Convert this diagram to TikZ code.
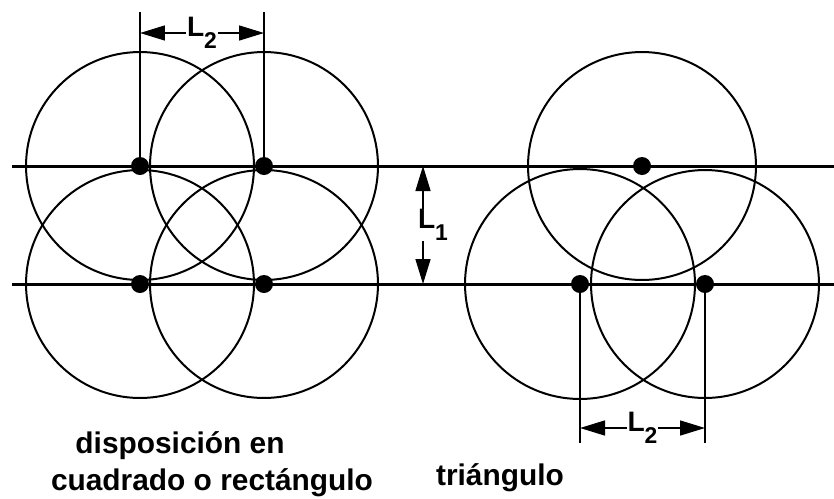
\documentclass[tikz,border=0pt]{standalone}
\usepackage{fontspec}
\setmainfont{Liberation Sans}
\usetikzlibrary{arrows.meta, positioning}
\tikzset{every node/.style={font=\bfseries}}
\newcommand{\lowidx}[1]{\raisebox{-6.5pt}{\fontsize{13}{13}\selectfont #1}}

\begin{document}
\begin{tikzpicture}[x=0.02cm, y=-0.02cm,
    ring/.style={line width=0.4mm},
    rowline/.style={line width=0.6mm},
    dimline/.style={line width=0.45mm},
    dimarrow/.style={line width=0.3mm, {Triangle[length=5mm, width=3mm]}-{Triangle[length=5mm, width=3mm]}},
    dot/.style={circle, fill, inner sep=0pt, minimum size=3.6mm},
    dimlabel/.style={fill=white, inner sep=0.5pt, font=\bfseries\fontsize{16}{16}\selectfont},
    caption/.style={anchor=base, font=\bfseries\fontsize{17}{20}\selectfont}]
  \useasboundingbox (0,0) rectangle (834,498);

  \coordinate (top west) at (12,166);
  \coordinate (top east) at (834,166);
  \coordinate (bot west) at (12,284);
  \coordinate (bot east) at (834,284);

  \node[dot] (sq1) at (140,166) {};
  \node[dot] (sq2) at (264,166) {};
  \node[dot] (sq3) at (140,284) {};
  \node[dot] (sq4) at (264,284) {};
  \node[dot] (tr1) at (642,166) {};
  \node[dot] (tr2) at (580,284) {};
  \node[dot] (tr3) at (705,284) {};

  \draw[ring] (sq1) circle[radius=2.28cm];
  \draw[ring] (sq2) circle[radius=2.28cm];
  \draw[ring] (sq3) circle[radius=2.28cm];
  \draw[ring] (sq4) circle[radius=2.28cm];
  \draw[ring] (tr1) circle[radius=2.28cm];
  \draw[ring] (tr2) circle[radius=2.3cm];
  \draw[ring] (tr3) circle[radius=2.28cm];

  \draw[rowline] (top west) -- (top east);
  \draw[rowline] (bot west) -- (bot east);

  \coordinate (sq1 up) at (140,12);
  \coordinate (sq2 up) at (264,12);
  \coordinate (l2 top left) at (140,33);
  \coordinate (l2 top right) at (264,33);
  \draw[dimline] (sq1) -- (sq1 up);
  \draw[dimline] (sq2) -- (sq2 up);
  \draw[dimarrow] (l2 top left) -- node[dimlabel] (l2 top) {L\lowidx{2}} (l2 top right);

  \coordinate (tr2 down) at (580,443);
  \coordinate (tr3 down) at (705,443);
  \coordinate (l2 bot left) at (580,428);
  \coordinate (l2 bot right) at (705,428);
  \draw[dimline] (tr2) -- (tr2 down);
  \draw[dimline] (tr3) -- (tr3 down);
  \draw[dimarrow] (l2 bot left) -- node[dimlabel] (l2 bot) {L\lowidx{2}} (l2 bot right);

  \coordinate (l1 up) at (423,166);
  \coordinate (l1 down) at (423,284);
  \draw[dimarrow] (l1 up) -- node[dimlabel, xshift=0.2cm] (l1) {L\lowidx{1}} (l1 down);

  \node[caption] (square line1) at (180,453) {disposición en};
  \node[caption] (square line2) at (212,490) {cuadrado o rectángulo};
  \node[caption] (triangle) at (500,485) {triángulo};
\end{tikzpicture}
\end{document}
